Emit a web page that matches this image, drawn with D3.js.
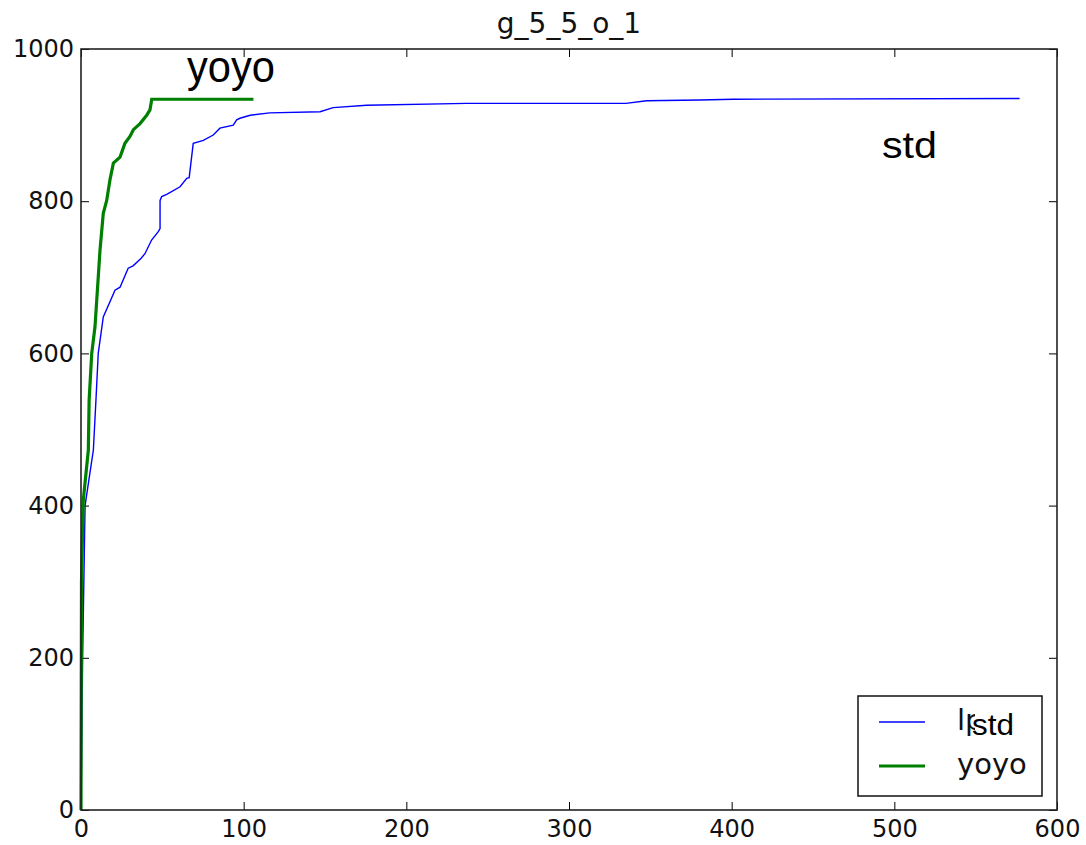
<!DOCTYPE html>
<html>
<head>
<meta charset="utf-8">
<script src="https://cdn.jsdelivr.net/npm/d3@7"></script>
<style>
  body { margin: 0; background: #fff; }
  svg { display: block; }
</style>
</head>
<body>
<script>
const width = 1086;
const height = 845;

// lp series (drawn blue, relabelled "std")
const lpX = [0, 1, 2.5, 7.6, 9.2, 10.6, 13.7, 20.9, 24, 29, 32, 37, 39.3, 43.4, 47.5, 48.6, 48.6, 49.6, 52.7, 60.9, 65, 66.5, 69, 75.2, 81.3, 85.4, 93.6, 95.7, 97.7, 104, 116, 147, 155, 175.6, 237, 335, 347.7, 380.5, 401, 577];
const lpY = [0, 200, 400, 473, 539, 600, 648, 683, 687, 712, 715, 725, 731, 749, 760, 764, 801, 806, 809, 819, 830, 831, 876, 880, 887, 896, 900, 907, 909, 913, 916, 917.5, 923, 926, 928.6, 928.6, 932, 933, 934, 935];

// yoyo series (green)
const yoyoX = [0, 0.3, 1.4, 4.5, 5, 6.6, 8.6, 11.7, 13.7, 15.8, 17.8, 19.9, 24, 27, 30.1, 32.2, 36.3, 40.4, 42.4, 43.5, 106];
const yoyoY = [0, 300, 407, 473, 539, 600, 635, 736, 784, 801, 828, 850, 858, 876, 885, 894, 902, 913, 920, 934, 934];

const xTicks = [0, 100, 200, 300, 400, 500, 600];
const yTicks = [0, 200, 400, 600, 800, 1000];
const title = "g_5_5_o_1";
const legendLabels = ["lp", "yoyo"];

const svg = d3.select("body").append("svg")
  .attr("width", width)
  .attr("height", height);

const x = d3.scaleLinear().domain([0, 600]).range([81, 1057]);
const y = d3.scaleLinear().domain([0, 1000]).range([810, 49]);

//axes, ticks inward on all four sides like old matplotlib
const mpl = "'DejaVu Sans', sans-serif";
const fmt = d3.format("d");

function styleAxis(g) {
  g.select(".domain").remove();
  g.selectAll(".tick line").attr("stroke", "#000").attr("stroke-width", 1);
  g.selectAll(".tick text").attr("fill", "#111").style("font-family", mpl).style("font-size", "24px");
}

svg.append("g")
  .attr("transform", "translate(0,810)")
  .call(d3.axisBottom(x).tickValues(xTicks).tickFormat(fmt).tickSizeInner(-8).tickSizeOuter(0).tickPadding(10))
  .call(styleAxis);
svg.append("g")
  .attr("transform", "translate(81,0)")
  .call(d3.axisLeft(y).tickValues(yTicks).tickFormat(fmt).tickSizeInner(-8).tickSizeOuter(0).tickPadding(7))
  .call(styleAxis);
svg.append("g")
  .attr("transform", "translate(0,49)")
  .call(d3.axisTop(x).tickValues(xTicks).tickSizeInner(-8).tickSizeOuter(0).tickFormat(""))
  .call(styleAxis);
svg.append("g")
  .attr("transform", "translate(1057,0)")
  .call(d3.axisRight(y).tickValues(yTicks).tickSizeInner(-8).tickSizeOuter(0).tickFormat(""))
  .call(styleAxis);

let line = d3.line()
  .x(function(d) { return x(d[0]); })
  .y(function(d) { return y(d[1]); });

svg.append("path")
  .datum(d3.zip(lpX, lpY))
  .attr("d", line)
  .attr("fill", "none")
  .attr("stroke", "#0000ff")
  .attr("stroke-width", 1.4);

svg.append("path")
  .datum(d3.zip(yoyoX, yoyoY))
  .attr("d", line)
  .attr("fill", "none")
  .attr("stroke", "#008000")
  .attr("stroke-width", 3.2);

// frame
svg.append("rect")
  .attr("x", 81).attr("y", 49)
  .attr("width", 976).attr("height", 761)
  .attr("fill", "none")
  .attr("stroke", "#222")
  .attr("stroke-width", 1.6);

svg.append("text")
  .attr("x", 569).attr("y", 33)
  .attr("text-anchor", "middle")
  .style("font-family", mpl).style("font-size", "28px")
  .attr("fill", "#111")
  .text(title);

// legend
const legend = svg.append("g");
legend.append("rect")
  .attr("x", 858).attr("y", 696)
  .attr("width", 184).attr("height", 100)
  .attr("fill", "#fff")
  .attr("stroke", "#111")
  .attr("stroke-width", 1.5);
const legendColors = ["#0000ff", "#008000"];
const legendWidths = [1.4, 3.2];
legendLabels.forEach(function(lbl, i) {
  let ly = 722 + i * 44;
  legend.append("line")
    .attr("x1", 879).attr("x2", 925)
    .attr("y1", ly).attr("y2", ly)
    .attr("stroke", legendColors[i])
    .attr("stroke-width", legendWidths[i]);
  legend.append("text")
    .attr("x", 957).attr("y", ly + 8)
    .style("font-family", mpl).style("font-size", "29px")
    .attr("fill", "#111")
    .text(lbl);
});

// pasted-on labels
const arial = "'Liberation Sans', Arial, sans-serif";
svg.append("rect")
  .attr("x", 975).attr("y", 705)
  .attr("width", 44).attr("height", 40)
  .attr("fill", "#fff");
svg.append("text")
  .attr("x", 972).attr("y", 735)
  .style("font-family", arial).style("font-size", "30px")
  .attr("textLength", 42).attr("lengthAdjust", "spacingAndGlyphs")
  .attr("fill", "#000")
  .text("std");

svg.append("text")
  .attr("x", 187).attr("y", 82)
  .style("font-family", arial).style("font-size", "45px")
  .attr("textLength", 88).attr("lengthAdjust", "spacingAndGlyphs")
  .attr("fill", "#000")
  .text("yoyo");

svg.append("text")
  .attr("x", 882).attr("y", 158)
  .style("font-family", arial).style("font-size", "37px")
  .attr("textLength", 55).attr("lengthAdjust", "spacingAndGlyphs")
  .attr("fill", "#000")
  .text("std");
</script>
</body>
</html>
